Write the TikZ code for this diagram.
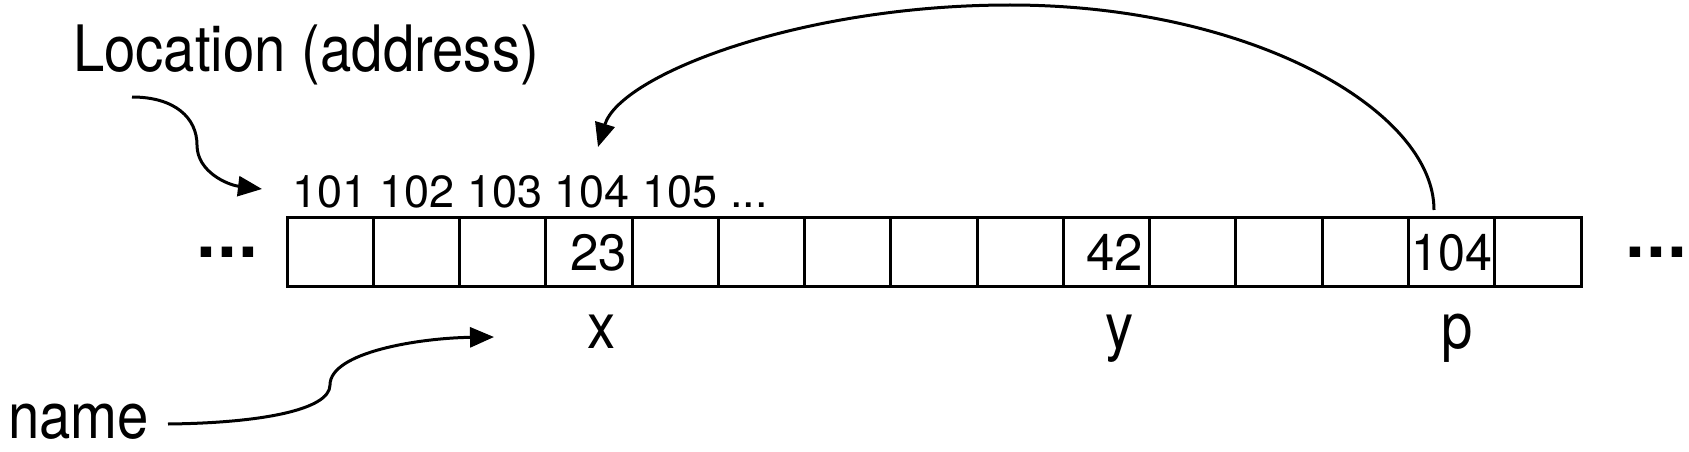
\documentclass[tikz,border=0pt]{standalone}
\usepackage{fontspec}
\setmainfont{TeX Gyre Heros}
\usetikzlibrary{arrows.meta}
\newcommand{\mydots}{.\kern-6.8pt.\kern-6.8pt.\kern-12pt}
\begin{document}
\begin{tikzpicture}[x=1pt,y=-1pt,
  cell/.style={draw,line width=3pt,minimum width=86.27pt,minimum height=69pt,inner sep=0pt,outer sep=0pt},
  conn/.style={line width=3pt,-{Triangle[length=24pt,width=20pt]}},
  bigtxt/.style={inner sep=0pt,font=\fontsize{64}{70}\selectfont,xscale=0.88},
  addrtxt/.style={inner sep=0pt,font=\fontsize{45}{50}\selectfont},
  celltxt/.style={inner sep=0pt,font=\fontsize{51}{56}\selectfont},
  dotstxt/.style={inner sep=0pt,font=\fontsize{100}{104}\selectfont}
]
\useasboundingbox (0,0) rectangle (1689,452);
% memory cells
\foreach \i in {1,...,15}{
  \node[cell] (c\i) at ({287+86.27*(\i-0.5)},251.5) {};
}
% texts
\node[bigtxt,anchor=base west] (loc) at (73,72) {Location (address)};
\node[addrtxt,anchor=base west] (addrs) at (292,207) {101 102 103 104 105 ...};
\node[celltxt,anchor=base east] (v23) at (627,270) {23};
\node[celltxt,anchor=base east] (v42) at (1143,270) {42};
\node[celltxt,anchor=base west,xscale=0.95] (v104) at (1411,270) {104};
\node[bigtxt,anchor=base] (xl) at (602,348) {x};
\node[bigtxt,anchor=base] (yl) at (1120,348) {y};
\node[bigtxt,anchor=base] (pl) at (1457,348) {p};
\node[bigtxt,anchor=base west] (name) at (8,438) {name};
\node[dotstxt,anchor=base west] (ldots) at (192,257.5) {\mydots};
\node[dotstxt,anchor=base west] (rdots) at (1621,257.5) {\mydots};
% connectors
\coordinate (locS) at (132,97);
\coordinate (locM) at (197,145);
\coordinate (locE) at (262,189);
\draw[conn] (locS) .. controls (175,97) and (197,118) .. (locM)
  .. controls (197,172) and (228,185) .. (locE);
\coordinate (nameS) at (168,424);
\coordinate (nameM) at (330,385);
\coordinate (nameE) at (494,337);
\draw[conn] (nameS) .. controls (260,423) and (330,410) .. (nameM)
  .. controls (330,352) and (420,338) .. (nameE);
\coordinate (ptrS) at (1434,210);
\coordinate (ptrTop) at (1010,5);
\coordinate (ptrE) at (598,147);
\draw[conn] (ptrS) .. controls (1434,110) and (1250,5) .. (ptrTop)
  .. controls (800,5) and (620,75) .. (ptrE);
\end{tikzpicture}
\end{document}
